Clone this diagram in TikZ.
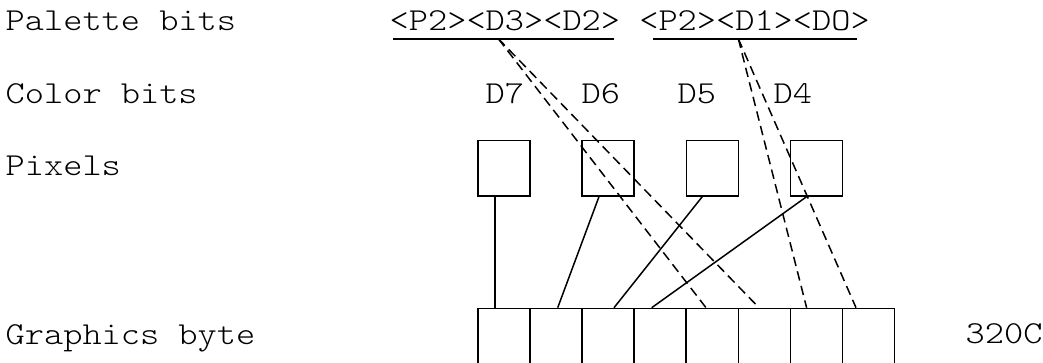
\documentclass[tikz,border=0pt]{standalone}
\usepackage{fontspec}
\newfontfamily\courfont{Latin Modern Mono Light}[FakeStretch=1.143]
\usepackage{tikz}
\usetikzlibrary{arrows.meta}

\begin{document}
\begin{tikzpicture}[x=1pt, y=-1pt,
	txt/.style = {anchor=base west, inner sep=0pt,
		font=\courfont\fontsize{32}{38}\selectfont},
	wire/.style = {draw=black, line width=1.5pt},
	dashwire/.style = {wire, dash pattern=on 9.5pt off 5.5pt}]
	\useasboundingbox (0,0) rectangle (1043,362);
	\clip (0,0) rectangle (1043,362);
	% row labels
	\node[txt] (palette) at (5.5,30) {Palette bits};
	\node[txt] (color) at (5.5,103) {Color bits};
	\node[txt] (pixels) at (5.5,175.5) {Pixels};
	\node[txt] (graphics) at (5.5,344) {Graphics byte};
	\node[txt] (addr) at (965.5,343.5) {320C};
	% palette groups and colour bits
	\node[txt] (palA) at (389.5,30) {<P2><D3><D2>};
	\node[txt] (palB) at (639.1,30) {<P2><D1><DO>};
	\node[txt] (dseven) at (485.5,103) {D7};
	\node[txt] (dsix) at (581.5,103) {D6};
	\node[txt] (dfive) at (677.5,103) {D5};
	\node[txt] (dfour) at (773.5,103) {D4};
	\coordinate (ulAw) at (393.3,38.7);
	\coordinate (ulAe) at (614,38.7);
	\coordinate (ulBw) at (653.3,38.7);
	\coordinate (ulBe) at (856.7,38.7);
	\coordinate (tapA) at (498.3,38.7);
	\coordinate (tapB) at (738.3,38.7);
	\draw[line width=1.8pt] (ulAw) -- (ulAe);
	\draw[line width=1.8pt] (ulBw) -- (ulBe);
	\begin{scope}[every node/.style = {rectangle, draw, line width=1.6pt,
			inner sep=0pt, anchor=north west}]
		\node[minimum width=52pt, minimum height=55.5pt] (pixA) at (477.3,139.5) {};
		\node[minimum width=52pt, minimum height=55.5pt] (pixB) at (581,139.5) {};
		\node[minimum width=52pt, minimum height=55.5pt] (pixC) at (685.5,139.5) {};
		\node[minimum width=52pt, minimum height=55.5pt] (pixD) at (789.5,139.5) {};
		\node[minimum width=52pt, minimum height=80pt] (bA) at (477.3,307.7) {};
		\node[minimum width=52pt, minimum height=80pt] (bB) at (529.3,307.7) {};
		\node[minimum width=52pt, minimum height=80pt] (bC) at (581.3,307.7) {};
		\node[minimum width=52pt, minimum height=80pt] (bD) at (633.3,307.7) {};
		\node[minimum width=52pt, minimum height=80pt] (bE) at (685.5,307.7) {};
		\node[minimum width=52pt, minimum height=80pt] (bF) at (737.5,307.7) {};
		\node[minimum width=52pt, minimum height=80pt] (bG) at (789.6,307.7) {};
		\node[minimum width=52pt, minimum height=80pt] (bH) at (841.6,307.7) {};
	\end{scope}
	% pixels to byte
	\path[wire] ([xshift=17.7pt]pixA.south west) -- ([xshift=17.7pt]bA.north west);
	\path[wire] ([xshift=18pt]pixB.south west) -- ([xshift=28.4pt]bB.north west);
	\path[wire] ([xshift=16.8pt]pixC.south west) -- ([xshift=32.7pt]bC.north west);
	\path[wire] ([xshift=17.2pt]pixD.south west) -- ([xshift=18.4pt]bD.north west);
	% palette to byte
	\path[dashwire] (tapA) -- ([xshift=20.5pt]bE.north west);
	\path[dashwire] (tapA) -- ([xshift=21.5pt]bF.north west);
	\path[dashwire] (tapB) -- ([xshift=17pt]bG.north west);
	\path[dashwire] (tapB) -- ([xshift=14.4pt]bH.north west);
\end{tikzpicture}
\end{document}
